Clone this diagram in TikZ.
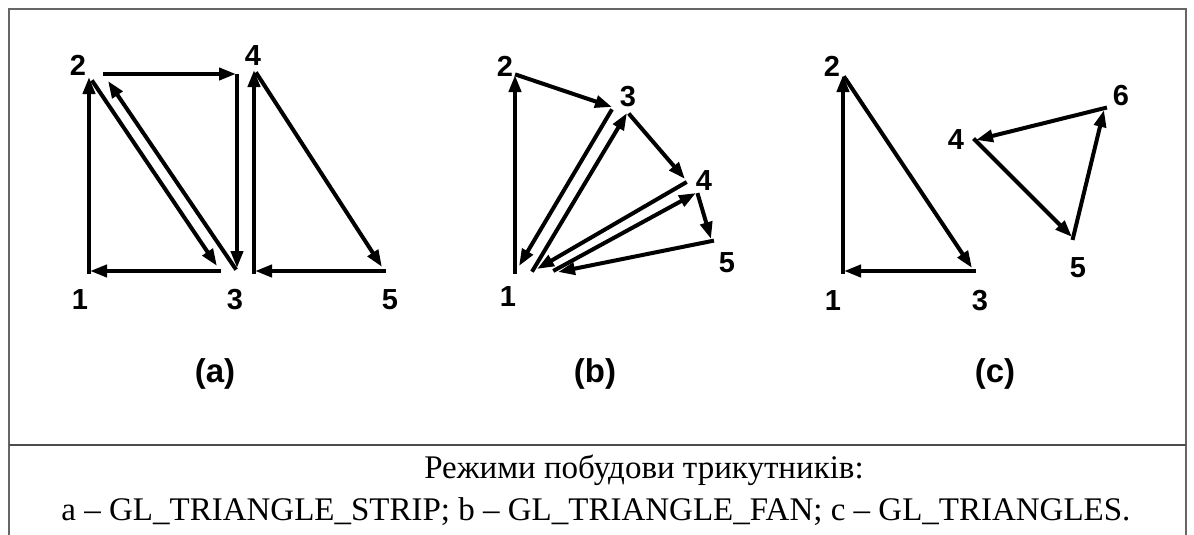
\documentclass[tikz,border=0pt]{standalone}
\usepackage{fontspec}
\setmainfont{Liberation Serif}
\newfontfamily\labfont{Liberation Sans}
\usetikzlibrary{arrows.meta}
\tikzset{
  edge/.style={line width=4pt, line cap=rect, -{Triangle[length=17pt,width=12pt]}},
  vlab/.style={font=\labfont\fontsize{29}{29}\selectfont\bfseries, inner sep=0pt},
  plab/.style={font=\labfont\fontsize{33}{33}\selectfont\bfseries, inner sep=0pt},
  captext/.style={font=\fontsize{33}{33}\selectfont, inner sep=0pt, anchor=base},
  frame/.style={draw=black!60, line width=2pt},
  sep/.style={draw=black!70, line width=1.5pt}
}
\begin{document}
\begin{tikzpicture}[x=1pt,y=-1pt]
\useasboundingbox (0,0) rectangle (1194,535);
% frame
\coordinate (fbl) at (9,535);
\coordinate (ftl) at (9,9);
\coordinate (ftr) at (1186,9);
\coordinate (fbr) at (1186,535);
\coordinate (sl) at (9,445);
\coordinate (sr) at (1186,445);
\draw[frame] (fbl) -- (ftl) -- (ftr) -- (fbr);
\draw[sep] (sl) -- (sr);

% ---------- (a) GL_TRIANGLE_STRIP ----------
\coordinate (a1) at (89,272);
\coordinate (a2) at (89,77);
\coordinate (a2s) at (93,82);
\coordinate (a3) at (217,266);
\coordinate (a3s) at (219,271);
\coordinate (a1e) at (90,271);
\draw[edge] (a1) -- (a2);
\draw[edge] (a2s) -- (a3);
\draw[edge] (a3s) -- (a1e);

\coordinate (b3) at (235,268);
\coordinate (b2) at (108,81);
\coordinate (b2s) at (105,74);
\coordinate (b4) at (236,74);
\coordinate (b4s) at (237,76);
\coordinate (b3e) at (237,268);
\draw[edge] (b3) -- (b2);
\draw[edge] (b2s) -- (b4);
\draw[edge] (b4s) -- (b3e);

\coordinate (c3) at (254,272);
\coordinate (c4) at (254,70);
\coordinate (c4s) at (257,74);
\coordinate (c5) at (382,267);
\coordinate (c5s) at (384,271);
\coordinate (c3e) at (255,271);
\draw[edge] (c3) -- (c4);
\draw[edge] (c4s) -- (c5);
\draw[edge] (c5s) -- (c3e);

\node[vlab] (la2) at (78,65) {2};
\node[vlab] (la4) at (253,56) {4};
\node[vlab] (la1) at (80,300) {1};
\node[vlab] (la3) at (235,300) {3};
\node[vlab] (la5) at (390,300) {5};
\node[plab] (pa) at (215,374) {(a)};

% ---------- (b) GL_TRIANGLE_FAN ----------
\coordinate (p1) at (515,272);
\coordinate (p2) at (515,75);
\coordinate (p2s) at (517,75);
\coordinate (p3) at (612,107);
\coordinate (p3s) at (611,111);
\coordinate (p1e) at (519,266);
\draw[edge] (p1) -- (p2);
\draw[edge] (p2s) -- (p3);
\draw[edge] (p3s) -- (p1e);

\coordinate (q1) at (533,270);
\coordinate (q3) at (627,113);
\coordinate (q3s) at (630,115);
\coordinate (q4) at (685,179);
\coordinate (q4s) at (685,183);
\coordinate (q1e) at (537,269);
\draw[edge] (q1) -- (q3);
\draw[edge] (q3s) -- (q4);
\draw[edge] (q4s) -- (q1e);

\coordinate (r1) at (555,270);
\coordinate (r4) at (696,193);
\coordinate (r4s) at (698,195);
\coordinate (r5) at (711,239);
\coordinate (r5s) at (712,241);
\coordinate (r1e) at (558,272);
\draw[edge] (r1) -- (r4);
\draw[edge] (r4s) -- (r5);
\draw[edge] (r5s) -- (r1e);

\node[vlab] (lb2) at (505,66) {2};
\node[vlab] (lb3) at (628,97) {3};
\node[vlab] (lb4) at (704,181) {4};
\node[vlab] (lb5) at (727,263) {5};
\node[vlab] (lb1) at (508,297) {1};
\node[plab] (pb) at (595,374) {(b)};

% ---------- (c) GL_TRIANGLES ----------
\coordinate (t1) at (843,272);
\coordinate (t2) at (843,75);
\coordinate (t2s) at (845,78);
\coordinate (t3) at (972,268);
\coordinate (t3s) at (974,271);
\coordinate (t1e) at (844,271);
\draw[edge] (t1) -- (t2);
\draw[edge] (t2s) -- (t3);
\draw[edge] (t3s) -- (t1e);

\coordinate (u4) at (975,140);
\coordinate (u5) at (1072,237);
\coordinate (u5s) at (1073,238);
\coordinate (u6) at (1104,110);
\coordinate (u6s) at (1105,108);
\coordinate (u4e) at (976,140);
\draw[edge] (u4) -- (u5);
\draw[edge] (u5s) -- (u6);
\draw[edge] (u6s) -- (u4e);

\node[vlab] (lc1) at (833,301) {1};
\node[vlab] (lc2) at (832,66) {2};
\node[vlab] (lc3) at (980,301) {3};
\node[vlab] (lc4) at (956,140) {4};
\node[vlab] (lc5) at (1078,268) {5};
\node[vlab] (lc6) at (1121,96) {6};
\node[plab] (pc) at (995,374) {(c)};

% caption
\node[captext] (cap1) at (644,478) {Режими побудови трикутників:};
\node[captext] (cap2) at (596,520) {a – GL\_TRIANGLE\_STRIP; b – GL\_TRIANGLE\_FAN; c – GL\_TRIANGLES.};
\end{tikzpicture}
\end{document}
